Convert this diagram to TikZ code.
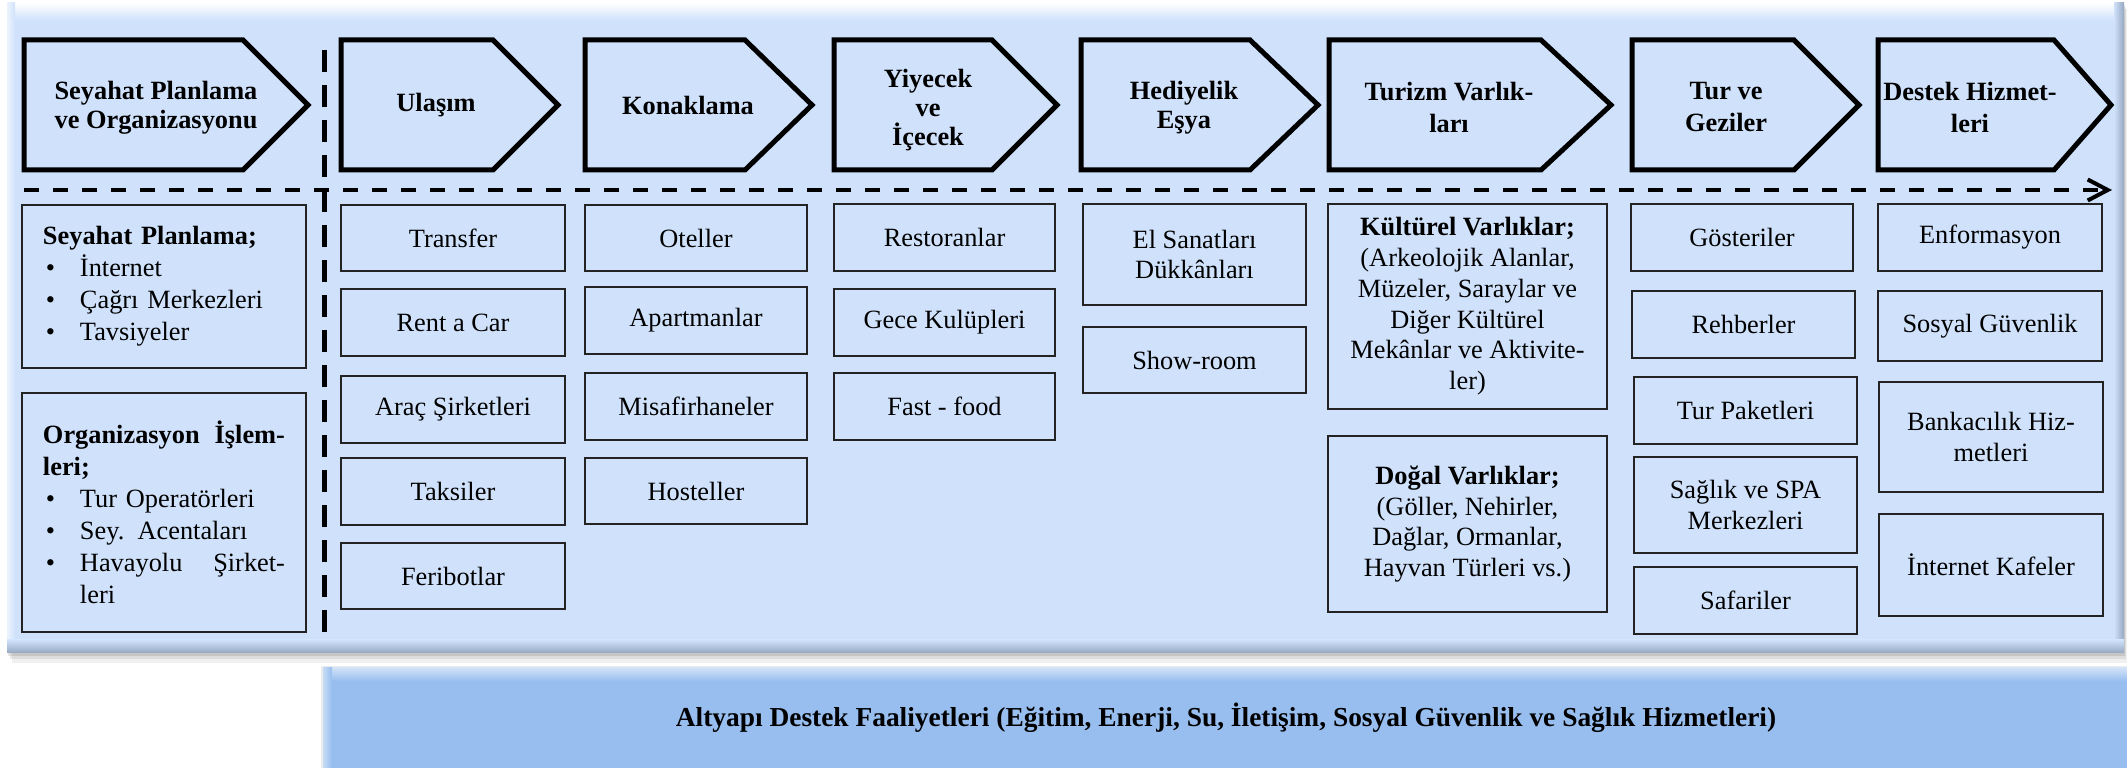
\documentclass[tikz,border=0pt]{standalone}
\usepackage{fontspec}
\setmainfont{Liberation Serif}
\usetikzlibrary{arrows.meta}
\definecolor{panelblue}{RGB}{208,226,251}
\definecolor{barblue}{RGB}{152,190,239}
\definecolor{bevdark}{RGB}{150,168,192}
\definecolor{boxline}{RGB}{35,35,35}
\newcommand\chevshape[3]{\draw[chev] (#1,40) -- (#2,40) -- (#3,105) -- (#2,170) -- (#1,170) -- cycle;}
\newcommand\blt{\hspace*{0.6mm}\makebox[6.8mm][l]{\textbullet}}
% \cellnode[style]{name}{x1}{y1}{x2}{y2}{text}
\newcommand\cellnode[6][cell]{\node[#1,minimum width={(#5-#3)*0.2mm},minimum height={(#6-#4)*0.2mm}] (#2) at ({(#3+#5)/2},{(#4+#6)/2})}
\begin{document}
\begin{tikzpicture}[x=0.2mm,y=-0.2mm,
  chev/.style={draw=black,line width=1mm,line join=miter},
  htext/.style={align=center,inner sep=0pt,font=\fontsize{15}{16.5}\selectfont\bfseries},
  hwide/.style={htext,font=\fontsize{15}{18.2}\selectfont\bfseries},
  cell/.style={draw=boxline,line width=0.3mm,inner sep=0pt,align=center,font=\fontsize{15}{17.5}\selectfont},
  lcell/.style={cell,align=left,text width=48.4mm,font=\fontsize{15}{18.2}\selectfont},
  hdash/.style={line width=0.8mm,dash pattern=on 3mm off 2.8mm},
  vdash/.style={line width=1mm,dash pattern=on 4.4mm off 2.6mm},
  bartext/.style={inner sep=0pt,font=\fontsize{15.6}{18}\selectfont\bfseries}]
\useasboundingbox (0,0) rectangle (2127,768);
% shadow of main panel
\fill[black,opacity=0.06] (12,9) rectangle (2127,663);
\fill[black,opacity=0.08] (10,7) rectangle (2126,659);
\fill[black,opacity=0.10] (8,5) rectangle (2125,656);
% main panel
\fill[panelblue] (7,3) rectangle (2124,653);
\shade[top color=white,bottom color=panelblue] (7,3) rectangle (2124,20);
\shade[left color=white!60!panelblue,right color=panelblue] (7,3) rectangle (15,653);
\shade[left color=panelblue,right color=bevdark] (2114,3) rectangle (2124,653);
\shade[top color=panelblue,bottom color=bevdark] (7,640) rectangle (2124,653);
% bottom bar
\fill[black,opacity=0.08] (321,666) rectangle (2127,768);
\fill[barblue] (323,668) rectangle (2127,768);
\shade[top color=white!55!barblue,bottom color=barblue] (323,668) rectangle (2127,681);
\shade[left color=white!45!barblue,right color=barblue] (323,668) rectangle (332,768);
\node[bartext] (infra) at (1226,718) {Altyapı Destek Faaliyetleri (Eğitim, Enerji, Su, İletişim, Sosyal Güvenlik ve Sağlık Hizmetleri)};
% dashed separators
\coordinate (hstart) at (24,190);
\coordinate (hend) at (2112,190);
\draw[hdash,-{Straight Barb[length=4mm,width=4.2mm]}] (hstart) -- (hend);
\coordinate (vtop) at (324,50);
\coordinate (vbot) at (324,634);
\draw[vdash] (vtop) -- (vbot);
% chevrons
\chevshape{24}{243}{308}
\chevshape{341}{493}{558}
\chevshape{585}{745}{812}
\chevshape{834}{992}{1057}
\chevshape{1081}{1250}{1318}
\chevshape{1329}{1541}{1611}
\chevshape{1632}{1794}{1859}
\chevshape{1878}{2054}{2111}
\node[htext] (h1) at (156,108) {Seyahat Planlama\\ve Organizasyonu};
\node[htext] (h2) at (436,105) {Ulaşım};
\node[htext] (h3) at (688,105) {Konaklama};
\node[htext] (h4) at (928,110) {Yiyecek\\ve\\İçecek};
\node[htext] (h5) at (1184,108) {Hediyelik\\Eşya};
\node[hwide] (h6) at (1449,107) {Turizm Varlık-\\ları};
\node[hwide] (h7) at (1726,107) {Tur ve\\Geziler};
\node[hwide] (h8) at (1970,107) {Destek Hizmet-\\leri};
% left column
\cellnode[lcell]{plan}{22}{205}{306}{368} {{\bfseries Seyahat Planlama;}\\\blt İnternet\\\blt Çağrı Merkezleri\\\blt Tavsiyeler};
\cellnode[lcell]{org}{22}{393}{306}{632} {{\bfseries Organizasyon\hfill İşlem-}\\{\bfseries leri;}\\\blt Tur Operatörleri\\\blt Sey. Acentaları\\\blt Havayolu\hfill Şirket-\\\hspace*{7.4mm}leri};
% Ulasim
\cellnode{transfer}{341}{205}{565}{271} {Transfer};
\cellnode{rent}{341}{289}{565}{356} {Rent a Car};
\cellnode{arac}{341}{376}{565}{443} {Araç Şirketleri};
\cellnode{taksi}{341}{458}{565}{525} {Taksiler};
\cellnode{feri}{341}{543}{565}{609} {Feribotlar};
% Konaklama
\cellnode{otel}{585}{205}{807}{271} {Oteller};
\cellnode{apart}{585}{287}{807}{354} {Apartmanlar};
\cellnode{misafir}{585}{373}{807}{440} {Misafirhaneler};
\cellnode{hostel}{585}{458}{807}{524} {Hosteller};
% Yiyecek
\cellnode{resto}{834}{204}{1055}{271} {Restoranlar};
\cellnode{gece}{834}{289}{1055}{356} {Gece Kulüpleri};
\cellnode{fast}{834}{373}{1055}{440} {Fast - food};
% Hediyelik
\cellnode{elsan}{1083}{204}{1306}{305} {El Sanatları\\Dükkânları};
\cellnode{show}{1083}{327}{1306}{393} {Show-room};
% Turizm varliklari
\cellnode{kultur}{1328}{204}{1607}{409} {{\bfseries Kültürel Varlıklar;}\\(Arkeolojik Alanlar,\\Müzeler, Saraylar ve\\Diğer Kültürel\\Mekânlar ve Aktivite-\\ler)};
\cellnode{dogal}{1328}{436}{1607}{612} {{\bfseries Doğal Varlıklar;}\\(Göller, Nehirler,\\Dağlar, Ormanlar,\\Hayvan Türleri vs.)};
% Tur ve geziler
\cellnode{goster}{1631}{204}{1853}{271} {Gösteriler};
\cellnode{rehber}{1632}{291}{1855}{358} {Rehberler};
\cellnode{paket}{1634}{377}{1857}{444} {Tur Paketleri};
\cellnode{spa}{1634}{457}{1857}{553} {Sağlık ve SPA\\Merkezleri};
\cellnode{safari}{1634}{567}{1857}{634} {Safariler};
% Destek hizmetleri
\cellnode{enfo}{1878}{204}{2102}{271} {Enformasyon};
\cellnode{sosyal}{1878}{291}{2102}{361} {Sosyal Güvenlik};
\cellnode{banka}{1879}{382}{2103}{492} {Bankacılık Hiz-\\metleri};
\cellnode{kafe}{1879}{514}{2103}{616} {İnternet Kafeler};
\end{tikzpicture}
\end{document}
